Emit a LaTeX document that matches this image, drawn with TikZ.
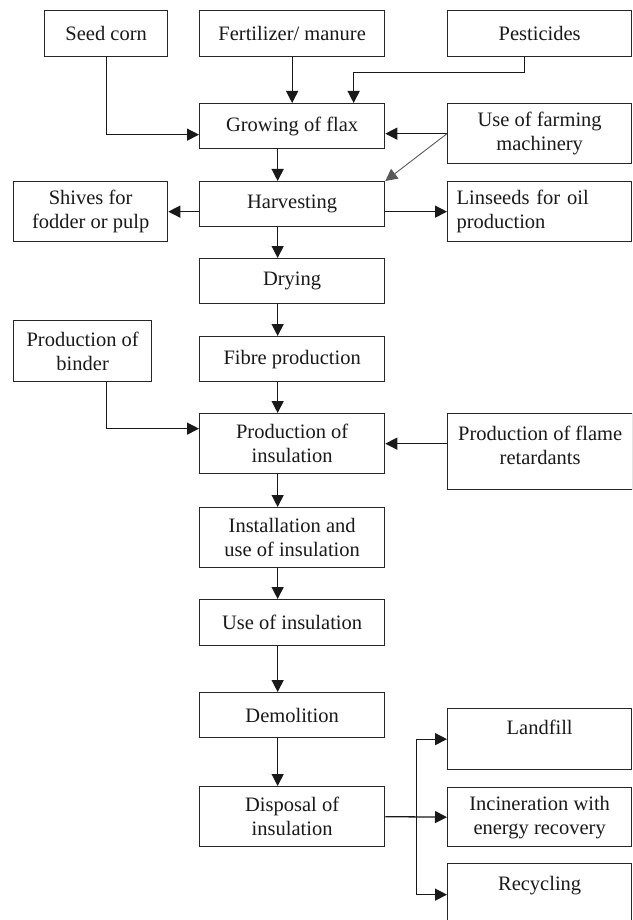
\documentclass[tikz,border=0pt]{standalone}
\usepackage{fontspec}
\setmainfont{Liberation Serif}
\usetikzlibrary{arrows.meta,calc}
\begin{document}
\begin{tikzpicture}[x=1pt,y=-1pt,
  box/.style={draw=black!85, line width=1.3pt, inner sep=0pt, align=center, anchor=north west,
    font=\fontsize{20.5}{24}\selectfont, text=black!90},
  arr/.style={draw=black!90, line width=1.3pt, -{Triangle[length=12pt,width=12pt]}},
  diag/.style={draw=black!65, line width=0.9pt, -{Triangle[length=12pt,width=12pt]}}]
\clip (0,0) rectangle (632,920);
\fill[white] (0,0) rectangle (632,920);
% top row
\node[box, minimum width=123pt, minimum height=46pt] (seed) at (44,10) {Seed corn};
\node[box, minimum width=185pt, minimum height=46pt] (fert) at (199,10) {Fertilizer/ manure};
\node[box, minimum width=184pt, minimum height=46pt] (pest) at (447,10) {Pesticides};
% growing
\node[box, minimum width=185pt, minimum height=45pt] (grow) at (199,103) {Growing of flax};
\node[box, minimum width=184pt, minimum height=60pt] (mach) at (447,103) {Use of farming\\machinery};
% harvesting
\node[box, minimum width=185pt, minimum height=45pt] (harv) at (199,181) {Harvesting};
\node[box, minimum width=154pt, minimum height=60pt] (shiv) at (13,181) {Shives for\\fodder or pulp};
\node[box, minimum width=184pt, minimum height=60pt, text width=166pt, inner xsep=9pt, align=left] (lins) at (447,181) {Linseeds for oil\\production};
% middle
\node[box, minimum width=185pt, minimum height=45pt] (dry) at (199,258) {Drying};
\node[box, minimum width=138pt, minimum height=61pt] (bind) at (13,320) {Production of\\binder};
\node[box, minimum width=185pt, minimum height=45pt] (fib) at (199,336) {Fibre production};
\node[box, minimum width=185pt, minimum height=60pt] (ins) at (199,413) {Production of\\insulation};
\node[box, minimum width=185pt, minimum height=76pt] (flam) at (447,413) {Production of flame\\retardants\rule[-13pt]{0pt}{0pt}};
\node[box, minimum width=185pt, minimum height=60pt] (inst) at (199,507) {Installation and\\use of insulation};
\node[box, minimum width=185pt, minimum height=46pt] (use) at (199,599) {Use of insulation};
\node[box, minimum width=185pt, minimum height=45pt] (dem) at (199,692) {Demolition};
\node[box, minimum width=185pt, minimum height=60pt] (disp) at (199,786) {Disposal of\\insulation};
% end of life
\node[box, minimum width=184pt, minimum height=61pt] (land) at (447,708) {Landfill\rule[-23pt]{0pt}{0pt}};
\node[box, minimum width=184pt, minimum height=59pt] (inc) at (447,787) {Incineration with\\energy recovery};
\node[box, minimum width=184pt, minimum height=62pt] (rec) at (447,863) {Recycling\rule[-23pt]{0pt}{0pt}};
% connectors
\draw[arr] (fert) -- (grow);
\draw[arr] ([xshift=-15pt]pest.south) -- ++(0,15) -| ([xshift=61.5pt]grow.north);
\draw[arr] (seed) |- ([yshift=-8.5pt]grow.west);
\draw[arr] (mach.west) -- (mach.west -| grow.east);
\draw[diag] (mach.west) -- (harv.north east);
\draw[arr] ([xshift=-14.5pt]grow.south) -- ([xshift=-14.5pt]harv.north);
\draw[arr] (harv.west |- shiv.east) -- (shiv.east);
\draw[arr] (harv.east |- lins.west) -- (lins.west);
\draw[arr] ([xshift=-14.5pt]harv.south) -- ([xshift=-14.5pt]dry.north);
\draw[arr] ([xshift=-14.5pt]dry.south) -- ([xshift=-14.5pt]fib.north);
\draw[arr] ([xshift=-14.5pt]fib.south) -- ([xshift=-14.5pt]ins.north);
\draw[arr] ([xshift=24pt]bind.south) |- ([yshift=15pt]ins.west);
\draw[arr] (flam.west |- ins.east) -- (ins.east);
\draw[arr] ([xshift=-14.5pt]ins.south) -- ([xshift=-14.5pt]inst.north);
\draw[arr] ([xshift=-14.5pt]inst.south) -- ([xshift=-14.5pt]use.north);
\draw[arr] ([xshift=-14.5pt]use.south) -- ([xshift=-14.5pt]dem.north);
\draw[arr] ([xshift=-14.5pt]dem.south) -- ([xshift=-14.5pt]disp.north);
\draw[arr] (disp.east) -- (inc.west);
\coordinate (br) at ($(disp.east)!0.5!(inc.west)$);
\draw[arr] (br) |- (land.west);
\draw[arr] (br) |- (rec.west);
\end{tikzpicture}
\end{document}
